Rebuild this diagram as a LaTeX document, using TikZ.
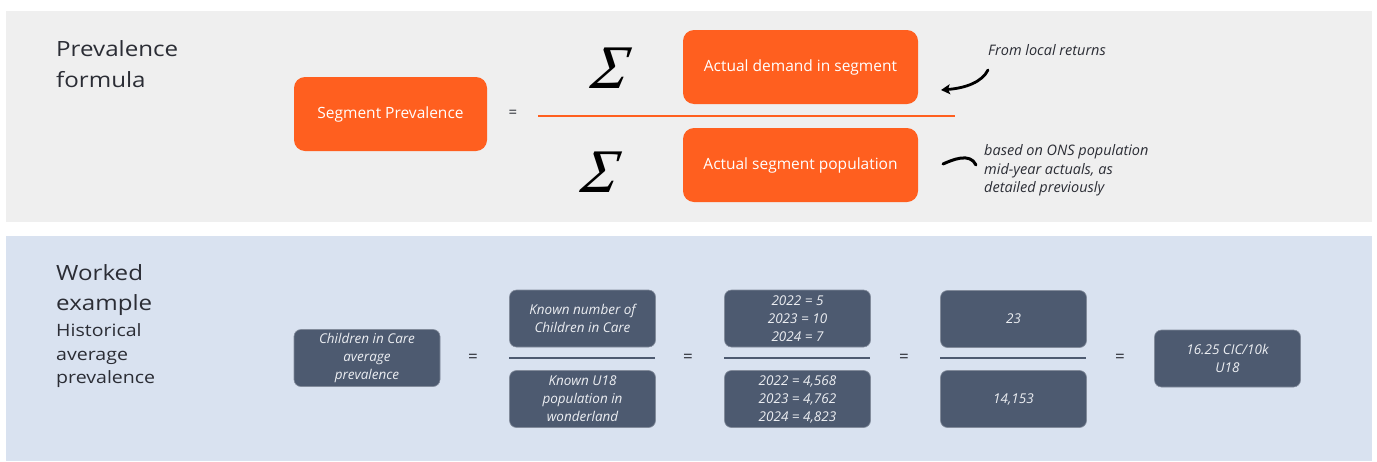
\documentclass[tikz,border=0pt]{standalone}
\usepackage{fontspec}
\setmainfont{Open Sans}
\newfontfamily\headfont[FakeStretch=1.15]{Open Sans}
\newfontfamily\sigmafont{Liberation Serif}
\usetikzlibrary{arrows.meta}
\definecolor{segorange}{HTML}{FF5F1F}
\definecolor{panelgrey}{HTML}{EFEFEF}
\definecolor{panelblue}{HTML}{D9E2F0}
\definecolor{slate}{HTML}{4D5A70}
\definecolor{inkdark}{HTML}{2B2D35}
\definecolor{boxtext}{HTML}{ECEEF2}
\begin{document}
\begin{tikzpicture}[x=1pt,y=-1pt,
  heading/.style={anchor=base west,inner sep=0,text=inkdark,font=\headfont\fontsize{21}{21}\selectfont},
  subheading/.style={anchor=base west,inner sep=0,text=inkdark,font=\headfont\fontsize{17}{17}\selectfont},
  orangebox/.style={fill=segorange,rounded corners=11pt,minimum width=235pt,minimum height=74pt,
    inner sep=0,text=white,font=\fontsize{15.5}{15.5}\selectfont},
  slatebox/.style={fill=slate,draw=slate!70!white,line width=0.6pt,rounded corners=7pt,minimum width=146pt,minimum height=57pt,
    inner sep=0,text=boxtext,align=center,font=\itshape\fontsize{13.5}{18}\selectfont},
  eqsign/.style={inner sep=0,text=inkdark,font=\fontsize{17}{17}\selectfont},
  fracbar/.style={draw=slate,line width=1.8pt},
  note/.style={anchor=west,inner sep=0,text=inkdark,align=left,font=\itshape\fontsize{14.5}{18.5}\selectfont},
  bigsum/.style={inner sep=0,xslant=0.18,transform shape,font=\sigmafont\itshape\fontsize{62}{62}\selectfont},
  stroke/.style={line width=2.8pt,line cap=round,black}
]
\useasboundingbox (0,0) rectangle (1377,461);
\fill[white] (0,0) rectangle (1377,461);

% background panels
\fill[panelgrey] (6,11) rectangle (1372,222);
\fill[panelblue] (6,236) rectangle (1372,461);

% ---- prevalence formula ----
\node[heading] (t1a) at (56,56.5) {Prevalence};
\node[heading] (t1b) at (56,87) {formula};

\node[orangebox,minimum width=193pt] (segprev) at (390.5,114) {Segment Prevalence};
\node[eqsign,font=\fontsize{15}{15}\selectfont] (eq0) at (513,114) {=};
\coordinate (barL) at (538,116);
\coordinate (barR) at (955,116);
\draw[segorange,line width=1.5pt] (barL) -- (barR);

\node[bigsum] (sumtop) at (612,68) {Σ};
\node[bigsum] (sumbot) at (602,172) {Σ};

\node[orangebox] (demand) at (800.5,67) {Actual demand in segment};
\node[orangebox] (popul) at (800.5,165) {Actual segment population};

\node[note] (note1) at (988,50) {From local returns};
\node[note] (note2) at (984,170.5) {based on ONS population\\mid-year actuals, as\\detailed previously};

% hand-drawn pointers
\coordinate (p1s) at (988,70);
\coordinate (p1e) at (941,90);
\draw[stroke,-{Stealth[length=9pt,width=10pt,inset=2pt]}] (p1s) .. controls (982,82) and (966,88) .. (p1e);
\coordinate (p2s) at (943,164);
\coordinate (p2e) at (976,165);
\draw[stroke,line width=3pt] (p2s) .. controls (952,160) and (970,152) .. (p2e);

% ---- worked example ----
\node[heading] (t2a) at (56,280) {Worked};
\node[heading] (t2b) at (56,310) {example};
\node[subheading] (t2c) at (56,336.5) {Historical};
\node[subheading] (t2d) at (56,360) {average};
\node[subheading] (t2e) at (56,383.5) {prevalence};

\node[slatebox] (cic) at (367,358) {Children in Care\\average\\prevalence};
\node[eqsign] (eq1) at (473,358) {=};

\node[slatebox] (knownA) at (582.5,318.5) {Known number of\\Children in Care};
\node[slatebox] (knownB) at (582.5,399) {Known U18\\population in\\wonderland};
\coordinate (f1L) at (509,358);
\coordinate (f1R) at (655,358);
\draw[fracbar] (f1L) -- (f1R);

\node[eqsign] (eq2) at (688,358) {=};

\node[slatebox] (yearsA) at (797.5,318.5) {2022 = 5\\2023 = 10\\2024 = 7};
\node[slatebox] (yearsB) at (797.5,399) {2022 = 4,568\\2023 = 4,762\\2024 = 4,823};
\coordinate (f2L) at (724,358);
\coordinate (f2R) at (870,358);
\draw[fracbar] (f2L) -- (f2R);

\node[eqsign] (eq3) at (904,358) {=};

\node[slatebox] (sumA) at (1013.5,319) {23};
\node[slatebox] (sumB) at (1013.5,399) {14,153};
\coordinate (f3L) at (940,358);
\coordinate (f3R) at (1086,358);
\draw[fracbar] (f3L) -- (f3R);

\node[eqsign] (eq4) at (1120,358) {=};

\node[slatebox] (result) at (1227.5,358.5) {16.25 CIC/10k\\U18};
\end{tikzpicture}
\end{document}
